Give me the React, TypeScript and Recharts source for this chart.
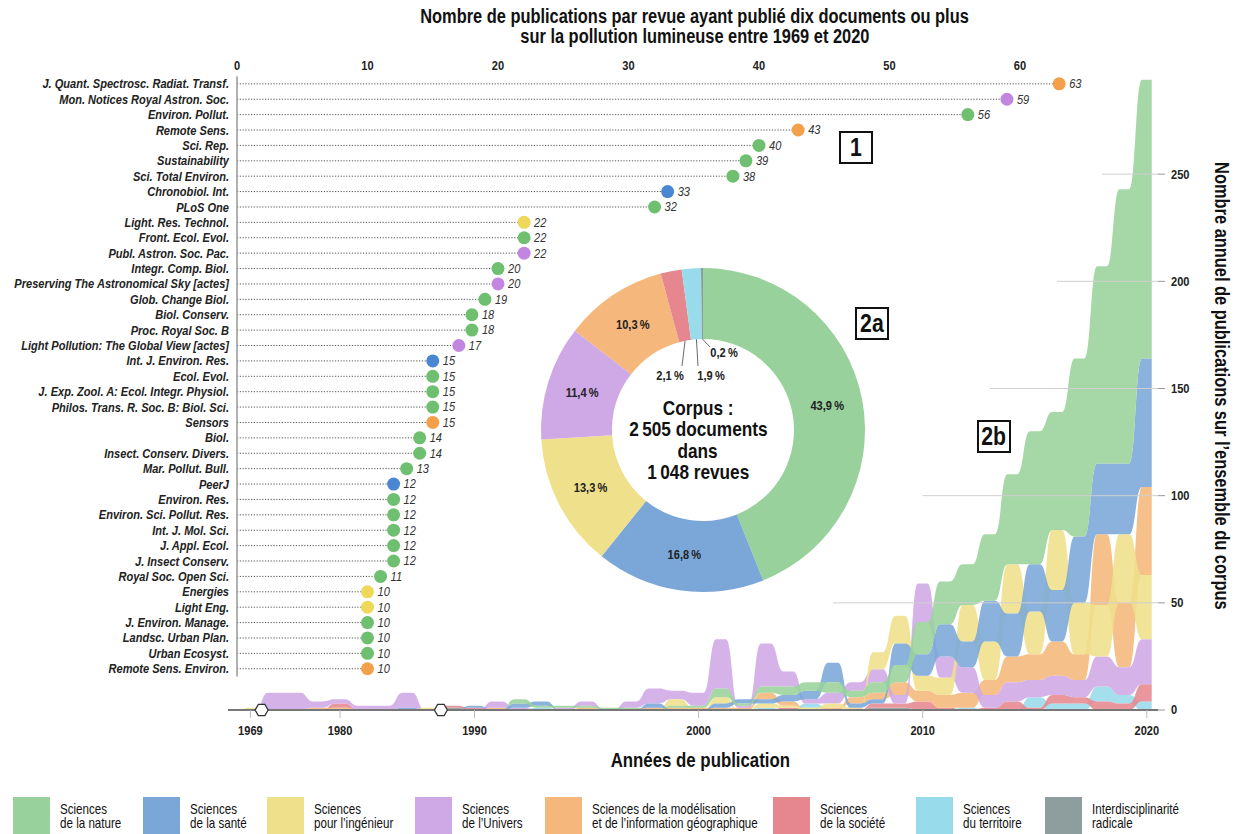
import React from 'react';
import {
  BarChart, Bar, XAxis, YAxis, ReferenceLine, AreaChart, Area, ReferenceDot,
  PieChart, Pie, Cell, ScatterChart,
} from 'recharts';

const FONT = "'Liberation Sans', Arial, Helvetica, sans-serif";
const NARROW = 0.82;

// ---------- categories ----------
const categories = ['nature', 'sante', 'ingenieur', 'univers', 'modelisation', 'societe', 'territoire', 'interdisciplinarite'];
const categoryLabels = [
  ['Sciences', 'de la nature'],
  ['Sciences', 'de la santé'],
  ['Sciences', 'pour l\u2019ingénieur'],
  ['Sciences', 'de l\u2019Univers'],
  ['Sciences de la modélisation', 'et de l\u2019information géographique'],
  ['Sciences', 'de la société'],
  ['Sciences', 'du territoire'],
  ['Interdisciplinarité', 'radicale'],
];
const categoryColors = ['#98d19b', '#7aa7d8', '#efe08b', '#cfa8e6', '#f5b77b', '#e6878f', '#98dbea', '#8e9e9e'];
const dotColors: Record<string, string> = {
  nature: '#6fbf70', sante: '#4a87d2', ingenieur: '#eed85a', univers: '#c386e0', modelisation: '#f4a04b',
};

// ---------- panel 1 : journals ----------
const journalNames = [
  'J. Quant. Spectrosc. Radiat. Transf.', 'Mon. Notices Royal Astron. Soc.', 'Environ. Pollut.', 'Remote Sens.',
  'Sci. Rep.', 'Sustainability', 'Sci. Total Environ.', 'Chronobiol. Int.', 'PLoS One', 'Light. Res. Technol.',
  'Front. Ecol. Evol.', 'Publ. Astron. Soc. Pac.', 'Integr. Comp. Biol.', 'Preserving The Astronomical Sky [actes]',
  'Glob. Change Biol.', 'Biol. Conserv.', 'Proc. Royal Soc. B', 'Light Pollution: The Global View [actes]',
  'Int. J. Environ. Res.', 'Ecol. Evol.', 'J. Exp. Zool. A: Ecol. Integr. Physiol.', 'Philos. Trans. R. Soc. B: Biol. Sci.',
  'Sensors', 'Biol.', 'Insect. Conserv. Divers.', 'Mar. Pollut. Bull.', 'PeerJ', 'Environ. Res.',
  'Environ. Sci. Pollut. Res.', 'Int. J. Mol. Sci.', 'J. Appl. Ecol.', 'J. Insect Conserv.', 'Royal Soc. Open Sci.',
  'Energies', 'Light Eng.', 'J. Environ. Manage.', 'Landsc. Urban Plan.', 'Urban Ecosyst.', 'Remote Sens. Environ.',
];
const journalValues = [63, 59, 56, 43, 40, 39, 38, 33, 32, 22, 22, 22, 20, 20, 19, 18, 18, 17, 15, 15, 15, 15, 15, 14, 14, 13, 12, 12, 12, 12, 12, 12, 11, 10, 10, 10, 10, 10, 10];
const journalCats = [
  'modelisation', 'univers', 'nature', 'modelisation', 'nature', 'nature', 'nature', 'sante', 'nature', 'ingenieur',
  'nature', 'univers', 'nature', 'univers', 'nature', 'nature', 'nature', 'univers', 'sante', 'nature',
  'nature', 'nature', 'modelisation', 'nature', 'nature', 'nature', 'sante', 'nature', 'nature', 'nature',
  'nature', 'nature', 'nature', 'ingenieur', 'ingenieur', 'nature', 'nature', 'nature', 'modelisation',
];
const journalTicks = [0, 10, 20, 30, 40, 50, 60];

// ---------- panel 2a : shares ----------
const pieShares = [43.9, 16.8, 13.3, 11.4, 10.3, 2.1, 1.9, 0.2];
const corpusLines = ['Corpus :', '2\u202f505 documents', 'dans', '1\u202f048 revues'];

// ---------- panel 2b : yearly publications ----------
const years = [1969, 1977, 1978, 1979, 1980, 1981, 1982, 1983, 1984, 1989, 1990, 1991, 1992, 1993, 1994, 1995, 1996, 1997, 1998, 1999, 2000, 2001, 2002, 2003, 2004, 2005, 2006, 2007, 2008, 2009, 2010, 2011, 2012, 2013, 2014, 2015, 2016, 2017, 2018, 2019, 2020];
const natureSeries = [0, 0, 0, 0, 0, 0, 0, 0, 0, 0, 0, 0, 2, 1, 1, 1, 1, 1, 0, 1, 1, 4, 1, 3, 4, 4, 5, 3, 5, 8, 15, 20, 19, 31, 42, 62, 55, 83, 92, 128, 130];
const santeSeries = [0, 0, 0, 0, 0, 0, 0, 1, 0, 0, 1, 0, 2, 2, 0, 0, 0, 0, 2, 0, 0, 2, 2, 2, 3, 4, 9, 2, 2, 10, 10, 15, 12, 19, 20, 22, 24, 31, 33, 33, 60];
const ingenieurSeries = [1, 0, 0, 0, 0, 0, 0, 0, 1, 0, 0, 0, 0, 0, 0, 0, 0, 0, 0, 3, 0, 3, 0, 2, 1, 1, 2, 1, 8, 13, 7, 8, 17, 18, 23, 20, 28, 24, 24, 32, 30];
const universSeries = [0, 8, 8, 3, 2, 2, 2, 7, 0, 0, 0, 3, 1, 0, 1, 2, 0, 3, 7, 4, 6, 23, 1, 20, 7, 2, 5, 4, 6, 4, 18, 10, 12, 6, 9, 8, 9, 8, 14, 13, 21];
const modelisationSeries = [0, 0, 0, 1, 1, 0, 0, 0, 0, 0, 0, 1, 0, 0, 0, 1, 0, 0, 1, 1, 1, 1, 1, 3, 2, 0, 1, 3, 3, 6, 5, 6, 7, 7, 12, 12, 16, 12, 33, 30, 41];
const societeSeries = [0, 0, 0, 0, 2, 0, 0, 0, 0, 1, 1, 0, 0, 0, 0, 0, 0, 0, 0, 0, 0, 0, 0, 0, 1, 0, 0, 0, 2, 2, 4, 1, 0, 1, 4, 1, 4, 3, 4, 3, 8];
const territoireSeries = [0, 0, 0, 0, 0, 0, 0, 0, 0, 0, 0, 0, 0, 1, 0, 0, 0, 0, 0, 0, 0, 0, 0, 1, 0, 2, 0, 0, 0, 0, 0, 0, 1, 0, 0, 5, 3, 3, 7, 4, 4];
const interdisciplinariteSeries = [0, 0, 0, 0, 0, 0, 0, 0, 0, 1, 0, 0, 0, 0, 0, 0, 0, 0, 0, 0, 0, 0, 0, 0, 0, 0, 0, 0, 1, 1, 0, 0, 0, 0, 0, 0, 0, 0, 0, 0, 0];
const tickYears = [1969, 1980, 1990, 2000, 2010, 2020];
const countTicks = [0, 50, 100, 150, 200, 250];
const countGridStartYears = [2006, 2010, 2013, 2016, 2018];

// ---------- derived tables ----------
const journalData = journalNames.map((name, i) => ({ name, value: journalValues[i], cat: journalCats[i] }));
const seriesValues = [natureSeries, santeSeries, ingenieurSeries, universSeries, modelisationSeries, societeSeries, territoireSeries, interdisciplinariteSeries];
// each year is drawn as a short plateau (rank-ordered stack), joined to the next year by a smooth bump
const PLATEAU = 0.22;
const streamData: any[] = [];
years.forEach((year, i) => {
  const order = categories.map((_, k) => k).sort((a, b) => (seriesValues[a][i] - seriesValues[b][i]) || (b - a));
  const stack: any = {};
  let acc = 0;
  order.forEach((k) => {
    const v = seriesValues[k][i];
    stack[categories[k]] = [acc, acc + v];
    acc += v;
  });
  streamData.push({ x: i - PLATEAU, year, ...stack });
  streamData.push({ x: i + PLATEAU, year, ...stack });
});
const breakIdx: number[] = [];
for (let i = 1; i < years.length; i++) if (years[i] - years[i - 1] > 1) breakIdx.push(i - 0.5);
const pieData = categories.map((c, i) => ({ name: c, value: pieShares[i] }));

// ---------- narrow text helpers ----------
const NText = ({ x, y, anchor = 'start', size, weight = 700, italic = false, fill = '#222', baseline, children }: any) => (
  <text
    transform={`translate(${x},${y}) scale(${NARROW},1)`}
    textAnchor={anchor} dominantBaseline={baseline} fontFamily={FONT} fontSize={size}
    fontWeight={weight} fontStyle={italic ? 'italic' : 'normal'} fill={fill}
  >{children}</text>
);

const Narrow = ({ children, origin = 'center', k = NARROW, vertical = false }: any) => (
  <span style={{
    display: 'inline-block', whiteSpace: 'nowrap',
    transform: vertical ? `scaleY(${k})` : `scaleX(${k})`, transformOrigin: origin,
  }}>{children}</span>
);

const JournalTick = (props: any) => (
  <NText x={props.x} y={props.y} anchor="end" baseline="central" size={13.5} italic>{props.payload.value}</NText>
);
const TopTick = (props: any) => (
  <NText x={props.x} y={props.y + 2} anchor="middle" size={13.5}>{props.payload.value}</NText>
);
const YearTick = (props: any) => (
  <NText x={props.x} y={props.y + 11} anchor="middle" size={13.5}>{years[props.payload.value]}</NText>
);
const CountTick = (props: any) => (
  <NText x={props.x} y={props.y} anchor="start" baseline="central" size={13.5}>{props.payload.value}</NText>
);

const DotShape = (props: any) => {
  const { x, y, width, height, payload } = props;
  const cy = y + height / 2;
  const ex = x + width;
  return (
    <g>
      <line x1={x} y1={cy} x2={ex} y2={cy} stroke="#555" strokeWidth={1} strokeDasharray="1.2 1.6" />
      <circle cx={ex} cy={cy} r={6.5} fill={dotColors[payload.cat]} />
      <NText x={ex + 10} y={cy} baseline="central" size={13.5} weight={400} italic fill="#333">{payload.value}</NText>
    </g>
  );
};

const Hexagon = (props: any) => {
  const { cx, cy } = props;
  const r = 6.5;
  const pts = [0, 60, 120, 180, 240, 300].map((a) => `${cx + r * Math.cos((a * Math.PI) / 180)},${cy + r * Math.sin((a * Math.PI) / 180)}`).join(' ');
  return <polygon points={pts} fill="#fff" stroke="#333" strokeWidth={1.3} />;
};

const smallLabelLayout: Record<number, number[]> = {
  5: [-33, -54, -21, -64],
  6: [8, -54, -5, -64],
  7: [21, -77, 7, -83],
};

const renderPieLabel = (props: any) => {
  const { cx, cy, midAngle, innerRadius, outerRadius, index } = props;
  const RAD = Math.PI / 180;
  const txt = pieShares[index].toFixed(1).replace('.', ',') + '\u202f%';
  if (pieShares[index] >= 5) {
    const r = (innerRadius + outerRadius) / 2;
    const x = cx + r * Math.cos(-midAngle * RAD);
    const y = cy + r * Math.sin(-midAngle * RAD);
    return <NText x={x} y={y} anchor="middle" baseline="central" size={13.5}>{txt}</NText>;
  }
  const sx = cx + innerRadius * Math.cos(-midAngle * RAD);
  const sy = cy + innerRadius * Math.sin(-midAngle * RAD);
  const l = smallLabelLayout[index];
  return (
    <g>
      <line x1={sx} y1={sy} x2={cx + l[2]} y2={cy + l[3]} stroke="#444" strokeWidth={0.8} />
      <NText x={cx + l[0]} y={cy + l[1]} anchor="middle" baseline="central" size={13.5}>{txt}</NText>
    </g>
  );
};

const Boxed = ({ left, top, text }: { left: number; top: number; text: string }) => (
  <div style={{
    position: 'absolute', left, top, width: 30, height: 29, border: '2px solid #111', background: '#fff',
    fontWeight: 700, fontSize: 25, lineHeight: '29px', textAlign: 'center', color: '#111',
  }}><Narrow k={0.85}>{text}</Narrow></div>
);

const legendSlots = [130, 124, 148, 130, 228, 143, 129, 150];

export default function App() {
  const abs: React.CSSProperties = { position: 'absolute', left: 0, top: 0 };
  return (
    <div style={{ position: 'absolute', left: 0, top: 0, width: 1234, height: 834, overflow: 'hidden', background: '#fff', fontFamily: FONT }}>
      {/* 2b : yearly streams */}
      <div style={abs}>
        <AreaChart width={1234} height={834} data={streamData} margin={{ top: 67, right: 26, bottom: 94, left: 228 }}>
          <XAxis
            type="number" dataKey="x" domain={[-1, 40.5]}
            ticks={tickYears.map((y) => years.indexOf(y))}
            tick={<YearTick />} tickSize={8} tickMargin={6}
            tickLine={{ stroke: '#bbb' }} axisLine={{ stroke: '#777', strokeWidth: 2 }} height={30}
          />
          <YAxis
            orientation="right" type="number" domain={[0, 300]} ticks={countTicks}
            tick={<CountTick />} tickSize={7} tickMargin={6} tickLine={{ stroke: '#999' }} axisLine={false} width={50}
          />
          {countTicks.slice(1).map((v, i) => (
            <ReferenceLine key={v} segment={[{ x: years.indexOf(countGridStartYears[i]), y: v }, { x: 40.5, y: v }]} stroke="#cfcfcf" strokeWidth={1} />
          ))}
          {[...categories].reverse().map((c) => {
            const k = categories.indexOf(c);
            return (
              <Area key={c} dataKey={c} type="bumpX" stroke="none" fill={categoryColors[k]} fillOpacity={0.88} isAnimationActive={false} />
            );
          })}
          {breakIdx.map((b) => (
            <ReferenceDot key={b} x={b} y={0} r={6.5} shape={Hexagon} />
          ))}
        </AreaChart>
      </div>

      {/* 1 (background) : value gridlines of the journal panel */}
      <div style={abs}>
        <ScatterChart width={1234} height={690} margin={{ top: 76.3, right: 83.5, bottom: 13.4, left: 237 }}>
          <XAxis type="number" dataKey="value" domain={[0, 70]} hide />
          <YAxis type="number" dataKey="row" domain={[-0.5, journalNames.length - 0.5]} reversed hide />
          {journalTicks.slice(1).map((v) => {
            const count = journalValues.filter((x) => x >= v).length;
            const endIdx = Math.min(count, journalNames.length - 1);
            return (
              <ReferenceLine key={v} ifOverflow="visible" segment={[{ x: v, y: -0.95 }, { x: v, y: endIdx }]} stroke="#e0e0e0" strokeWidth={1} />
            );
          })}
        </ScatterChart>
      </div>

      {/* 1 : journals dot plot */}
      <div style={abs}>
        <BarChart layout="vertical" width={1234} height={690} data={journalData} margin={{ top: 56.3, right: 83.5, bottom: 13.4, left: 0 }}>
          <XAxis type="number" orientation="top" domain={[0, 70]} ticks={journalTicks} tick={<TopTick />} tickLine={false} axisLine={false} height={20} />
          <YAxis
            type="category" dataKey="name" width={237} interval={0} tickLine={false}
            axisLine={{ stroke: '#999', strokeWidth: 1.5 }} tick={<JournalTick />}
          />
          <Bar dataKey="value" shape={DotShape} isAnimationActive={false} />
        </BarChart>
      </div>

      {/* 2a : donut */}
      <div style={abs}>
        <PieChart width={1234} height={834}>
          <Pie
            data={pieData} dataKey="value" cx={698} cy={425} innerRadius={91} outerRadius={162}
            startAngle={90} endAngle={-270} stroke="none" label={renderPieLabel} labelLine={false} isAnimationActive={false}
          >
            {pieData.map((d, i) => <Cell key={d.name} fill={categoryColors[i]} />)}
          </Pie>
        </PieChart>
      </div>
      <div style={{ position: 'absolute', left: 598, top: 397, width: 200, textAlign: 'center', fontWeight: 700, fontSize: 21, lineHeight: '21.3px', color: '#111' }}>
        {corpusLines.map((t, i) => <div key={i}><Narrow>{t}</Narrow></div>)}
      </div>

      {/* titles */}
      <div style={{ position: 'absolute', left: 345, top: 6, width: 700, textAlign: 'center', fontWeight: 700, fontSize: 20, lineHeight: '20px', color: '#111' }}>
        <div><Narrow>Nombre de publications par revue ayant publié dix documents ou plus</Narrow></div>
        <div><Narrow>sur la pollution lumineuse entre 1969 et 2020</Narrow></div>
      </div>
      <div style={{ position: 'absolute', left: 500, top: 748, width: 400, textAlign: 'center', fontWeight: 700, fontSize: 20.5, lineHeight: '24px', color: '#111' }}>
        <Narrow>Années de publication</Narrow>
      </div>
      <div style={{ position: 'absolute', left: 1210, top: 100, height: 572, width: 24, writingMode: 'vertical-rl', textAlign: 'center', fontWeight: 700, fontSize: 20, lineHeight: '24px', color: '#111' }}>
        <Narrow vertical>Nombre annuel de publications sur l’ensemble du corpus</Narrow>
      </div>

      <Boxed left={839} top={131} text="1" />
      <Boxed left={855} top={307} text="2a" />
      <Boxed left={977} top={420} text="2b" />

      {/* legend */}
      <div style={{ position: 'absolute', left: 13, top: 797, display: 'flex' }}>
        {categories.map((c, i) => (
          <div key={c} style={{ width: legendSlots[i], display: 'flex', alignItems: 'flex-start' }}>
            <div style={{ width: 37, height: 37, background: categoryColors[i], flexShrink: 0 }} />
            <div style={{ marginLeft: 10, marginTop: 5, fontSize: 14.5, lineHeight: '14px', color: '#111' }}>
              <div><Narrow origin="left" k={0.8}>{categoryLabels[i][0]}</Narrow></div>
              <div><Narrow origin="left" k={0.8}>{categoryLabels[i][1]}</Narrow></div>
            </div>
          </div>
        ))}
      </div>
    </div>
  );
}
